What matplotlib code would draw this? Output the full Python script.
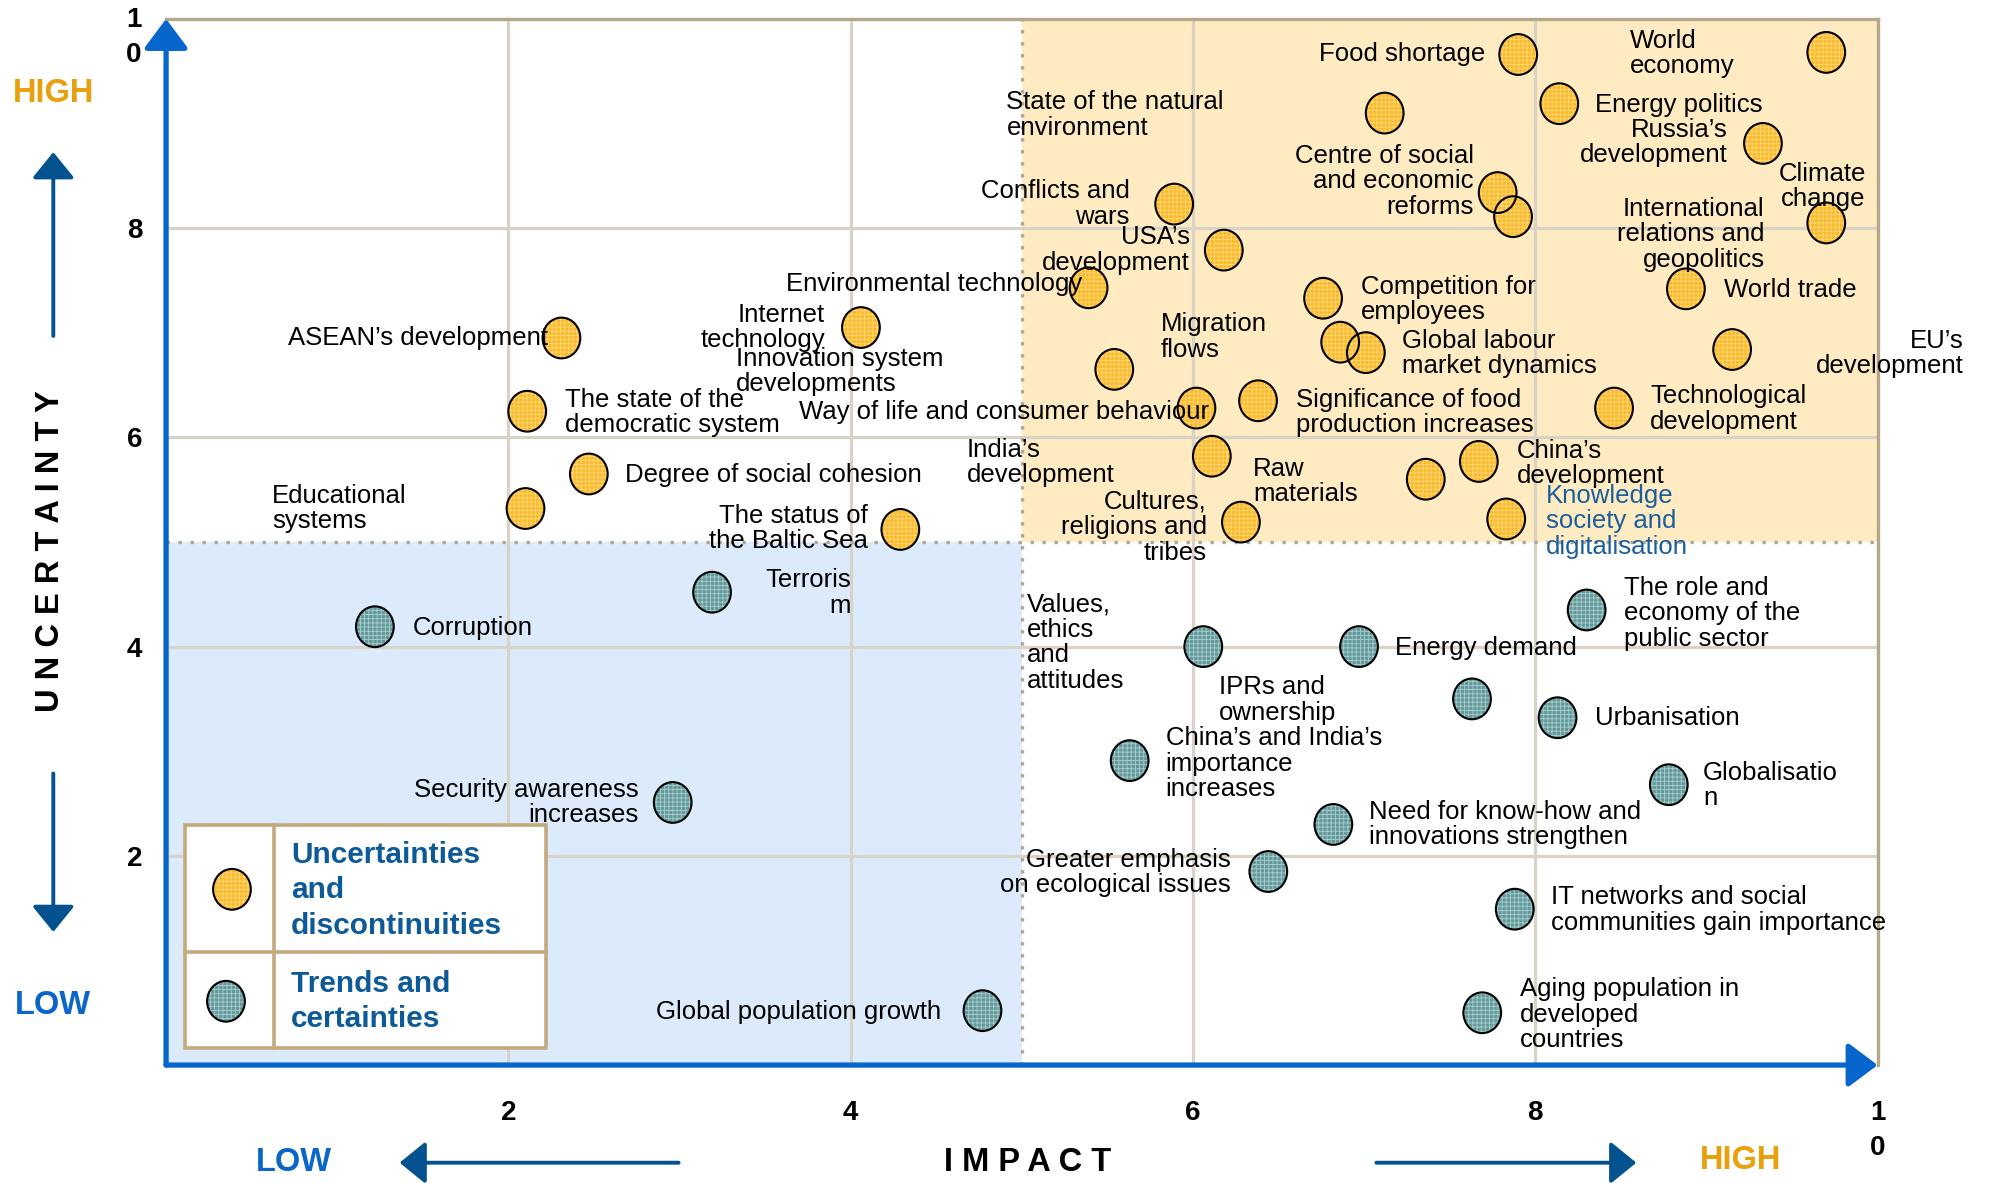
import matplotlib
matplotlib.use("Agg")
import matplotlib.pyplot as plt
from matplotlib.path import Path
from matplotlib.transforms import Affine2D
from matplotlib.patches import Rectangle, FancyArrowPatch, ArrowStyle

plt.rcParams['font.family'] = ['Liberation Sans', 'DejaVu Sans']
plt.rcParams['hatch.linewidth'] = 0.6

# ---------------- data ----------------
# Uncertainties and discontinuities (orange)
unc_labels = [
    "Food shortage", "World\neconomy", "State of the natural\nenvironment",
    "Energy politics", "Russia’s\ndevelopment", "Climate\nchange",
    "Conflicts and\nwars", "Centre of social\nand economic\nreforms",
    "International\nrelations and\ngeopolitics", "USA’s\ndevelopment",
    "Environmental technology", "Competition for\nemployees", "World trade",
    "Internet\ntechnology", "ASEAN’s development", "Migration\nflows",
    "Global labour\nmarket dynamics", "EU’s\ndevelopment",
    "Innovation system\ndevelopments", "The state of the\ndemocratic system",
    "Way of life and consumer behaviour",
    "Significance of food\nproduction increases", "Technological\ndevelopment",
    "India’s\ndevelopment", "Raw\nmaterials", "China’s\ndevelopment",
    "Degree of social cohesion", "Educational\nsystems",
    "Cultures,\nreligions and\ntribes", "The status of\nthe Baltic Sea",
    "Knowledge\nsociety and\ndigitalisation",
]
unc_impact = [7.90, 9.70, 7.12, 8.14, 9.33, 9.70, 5.89, 7.78, 7.87, 6.18,
              5.39, 6.76, 8.88, 4.06, 2.31, 6.86, 7.01, 9.15, 5.54, 2.11,
              6.02, 6.38, 8.46, 6.11, 7.36, 7.67, 2.47, 2.10, 6.28, 4.29, 7.83]
unc_uncertainty = [9.66, 9.68, 9.10, 9.19, 8.81, 8.05, 8.23, 8.34, 8.11, 7.79,
                   7.43, 7.33, 7.42, 7.05, 6.95, 6.91, 6.81, 6.84, 6.65, 6.25,
                   6.28, 6.35, 6.28, 5.82, 5.60, 5.77, 5.65, 5.32, 5.19, 5.12, 5.22]

# Trends and certainties (teal)
trend_labels = [
    "Terroris\nm", "Corruption", "The role and\neconomy of the\npublic sector",
    "Values,\nethics\nand\nattitudes", "Energy demand", "IPRs and\nownership",
    "Urbanisation", "China’s and India’s\nimportance\nincreases",
    "Globalisatio\nn", "Security awareness\nincreases",
    "Need for know-how and\ninnovations strengthen",
    "Greater emphasis\non ecological issues",
    "IT networks and social\ncommunities gain importance",
    "Global population growth", "Aging population in\ndeveloped\ncountries",
]
trend_impact = [3.19, 1.22, 8.30, 6.06, 6.97, 7.63, 8.13, 5.63, 8.78, 2.96,
                6.82, 6.44, 7.88, 4.77, 7.69]
trend_uncertainty = [4.52, 4.19, 4.35, 4.00, 4.00, 3.50, 3.32, 2.91, 2.68, 2.51,
                     2.30, 1.85, 1.49, 0.52, 0.50]

# label anchor positions (data units) and horizontal alignment
unc_label_pos = [
    (7.71, 9.66, 'right'), (8.55, 9.67, 'left'), (4.91, 9.08, 'left'),
    (8.35, 9.18, 'left'), (9.125, 8.82, 'right'), (9.93, 8.40, 'right'),
    (5.63, 8.23, 'right'), (7.64, 8.45, 'right'), (9.34, 7.94, 'right'),
    (5.98, 7.79, 'right'), (3.62, 7.47, 'left'), (6.98, 7.32, 'left'),
    (9.10, 7.41, 'left'), (3.85, 7.05, 'right'), (2.23, 6.95, 'right'),
    (5.81, 6.96, 'left'), (7.22, 6.80, 'left'), (10.50, 6.80, 'right'),
    (3.33, 6.63, 'left'), (2.33, 6.24, 'left'), (3.70, 6.24, 'left'),
    (6.60, 6.24, 'left'), (8.67, 6.27, 'left'), (4.68, 5.76, 'left'),
    (6.35, 5.58, 'left'), (7.89, 5.75, 'left'), (2.68, 5.64, 'left'),
    (0.62, 5.32, 'left'), (6.08, 5.14, 'right'), (4.10, 5.13, 'right'),
    (8.06, 5.20, 'left'),
]
trend_label_pos = [
    (4.00, 4.51, 'right'), (1.44, 4.18, 'left'), (8.52, 4.32, 'left'),
    (5.03, 4.04, 'left'), (7.18, 3.99, 'left'), (6.15, 3.49, 'left'),
    (8.35, 3.32, 'left'), (5.84, 2.88, 'left'), (8.98, 2.67, 'left'),
    (2.76, 2.51, 'right'), (7.03, 2.30, 'left'), (6.22, 1.84, 'right'),
    (8.09, 1.48, 'left'), (4.53, 0.51, 'right'), (7.91, 0.48, 'left'),
]
highlight_label = "Knowledge\nsociety and\ndigitalisation"

ticks = [2, 4, 6, 8]
x_tick_labels = ['2', '4', '6', '8', '1\n0']
legend_labels = ["Uncertainties\nand\ndiscontinuities", "Trends and\ncertainties"]

# ---------------- style ----------------
ORANGE = '#FBBA2C'
ORANGE_H = '#FFD978'
TEAL = '#63999A'
TEAL_H = '#A9CDCD'
BLUE_AX = '#0766CC'
BLUE_ARR = '#02528F'
TAN = '#B7A78A'
GRID = '#D9D2C6'
DOT = '#B0A695'
HIGH_C = '#E8A00E'
LOW_C = '#0A66C8'
LEG_TXT = '#0D5A99'
LABEL_FS = 18.5
LS = 1.08

fig = plt.figure(figsize=(19.89, 11.83), dpi=100)
ax = fig.add_axes([0.0835, 0.0997, 0.8605, 0.8843])
ax.set_xlim(0, 10)
ax.set_ylim(0, 10)

# quadrant backgrounds
ax.add_patch(Rectangle((5, 5), 5, 5, facecolor='#FFEBC1', edgecolor='none', zorder=0.2))
ax.add_patch(Rectangle((0, 0), 5, 5, facecolor='#DCEBFB', edgecolor='none', zorder=0.2))

# grid
ax.set_axisbelow(True)
ax.set_xticks(ticks + [10])
ax.set_xticklabels(x_tick_labels, fontsize=20, fontweight='bold')
for t in ax.get_xticklabels():
    t.set_linespacing(1.45)
ax.set_yticks(ticks)
ax.set_yticklabels([str(t) for t in ticks], fontsize=20, fontweight='bold')
ax.tick_params(axis='x', length=0, pad=25)
ax.tick_params(axis='y', length=0, pad=17)
ax.grid(True, color=GRID, lw=2.3)
ax.text(-0.19, 10.11, '1\n0', ha='center', va='top', fontsize=20,
        fontweight='bold', linespacing=1.45, clip_on=False)

# dotted dividing lines
ax.plot([0, 10], [5, 5], color=DOT, lw=2.4, ls=(0, (1, 2.6)), zorder=0.6)
ax.plot([5, 5], [0, 10], color=DOT, lw=2.4, ls=(0, (1, 2.6)), zorder=0.6)

# spines
for s in ['left', 'bottom']:
    ax.spines[s].set_visible(False)
for s in ['top', 'right']:
    ax.spines[s].set_color(TAN)
    ax.spines[s].set_linewidth(2.4)

# blue axis arrows
for xy0, xy1 in [((0, 0), (0, 10.0)), ((0, 0), (10.0, 0))]:
    arr = FancyArrowPatch(xy0, xy1, transform=ax.transData,
                          arrowstyle=ArrowStyle('-|>', head_length=18, head_width=13.5),
                          mutation_scale=1, color=BLUE_AX, lw=3.8,
                          shrinkA=0, shrinkB=0, clip_on=False, zorder=4)
    ax.add_patch(arr)

# markers
marker = Affine2D().scale(1.0, 1.08).transform_path(Path.unit_circle())
MS = 860


def draw_points(xs, ys, fc, hc, z=3):
    ax.scatter(xs, ys, s=MS, marker=marker, facecolor=fc, edgecolor='none',
               linewidths=0, zorder=z, clip_on=False)
    ax.scatter(xs, ys, s=MS, marker=marker, facecolor='none', edgecolor=hc,
               linewidths=0, hatch='++++', zorder=z + 0.1, clip_on=False)
    ax.scatter(xs, ys, s=MS, marker=marker, facecolor='none', edgecolor='black',
               linewidths=1.5, zorder=z + 0.2, clip_on=False)


draw_points(unc_impact, unc_uncertainty, ORANGE, ORANGE_H)
draw_points(trend_impact, trend_uncertainty, TEAL, TEAL_H)

# labels
for lab, (lx, ly, ha) in zip(unc_labels, unc_label_pos):
    col = '#1B5E9E' if lab == highlight_label else 'black'
    ax.text(lx, ly, lab, ha=ha, va='center', multialignment=ha,
            fontsize=LABEL_FS, linespacing=LS, color=col, zorder=5, clip_on=False)
for lab, (lx, ly, ha) in zip(trend_labels, trend_label_pos):
    ax.text(lx, ly, lab, ha=ha, va='center', multialignment=ha,
            fontsize=LABEL_FS, linespacing=LS, color='black', zorder=5, clip_on=False)

# legend box
ax.add_patch(Rectangle((0.11, 0.16), 2.11, 2.13, facecolor='white',
                       edgecolor='#C2AA7C', lw=2.6, zorder=6))
ax.plot([0.63, 0.63], [0.16, 2.29], color='#C2AA7C', lw=2.6, zorder=6.5)
ax.plot([0.11, 2.22], [1.08, 1.08], color='#C2AA7C', lw=2.6, zorder=6.5)
draw_points([0.385], [1.68], ORANGE, ORANGE_H, z=7)
draw_points([0.35], [0.61], TEAL, TEAL_H, z=7)
ax.text(0.73, 1.67, legend_labels[0], ha='left', va='center', fontsize=21.5,
        fontweight='bold', color=LEG_TXT, linespacing=1.34, zorder=8)
ax.text(0.73, 0.61, legend_labels[1], ha='left', va='center', fontsize=21.5,
        fontweight='bold', color=LEG_TXT, linespacing=1.34, zorder=8)

# outer annotations
fig.text(0.0268, 0.9207, 'HIGH', color=HIGH_C, fontsize=23.5, fontweight='bold',
         ha='center', va='center')
fig.text(0.0268, 0.150, 'LOW', color=LOW_C, fontsize=23.5, fontweight='bold',
         ha='center', va='center')
fig.text(0.0255, 0.5338, 'U N C E R T A I N T Y', rotation=90, fontsize=23.5,
         fontweight='bold', ha='center', va='center')
fig.text(0.148, 0.0171, 'LOW', color=LOW_C, fontsize=23.5, fontweight='bold',
         ha='center', va='center')
fig.text(0.5166, 0.0171, 'I M P A C T', fontsize=23.5, fontweight='bold',
         ha='center', va='center')
fig.text(0.875, 0.0193, 'HIGH', color=HIGH_C, fontsize=23.5, fontweight='bold',
         ha='center', va='center')

for p0, p1 in [((0.0268, 0.716), (0.0268, 0.8714)),
               ((0.0268, 0.3462), (0.0268, 0.2122)),
               ((0.3412, 0.01715), (0.2009, 0.01715)),
               ((0.692, 0.01715), (0.8227, 0.01715))]:
    fig.patches.append(FancyArrowPatch(p0, p1, transform=fig.transFigure,
                                       arrowstyle=ArrowStyle('-|>', head_length=16, head_width=13),
                                       mutation_scale=1, color=BLUE_ARR, lw=2.8,
                                       shrinkA=0, shrinkB=0))

fig.savefig('out.png', dpi=100)
